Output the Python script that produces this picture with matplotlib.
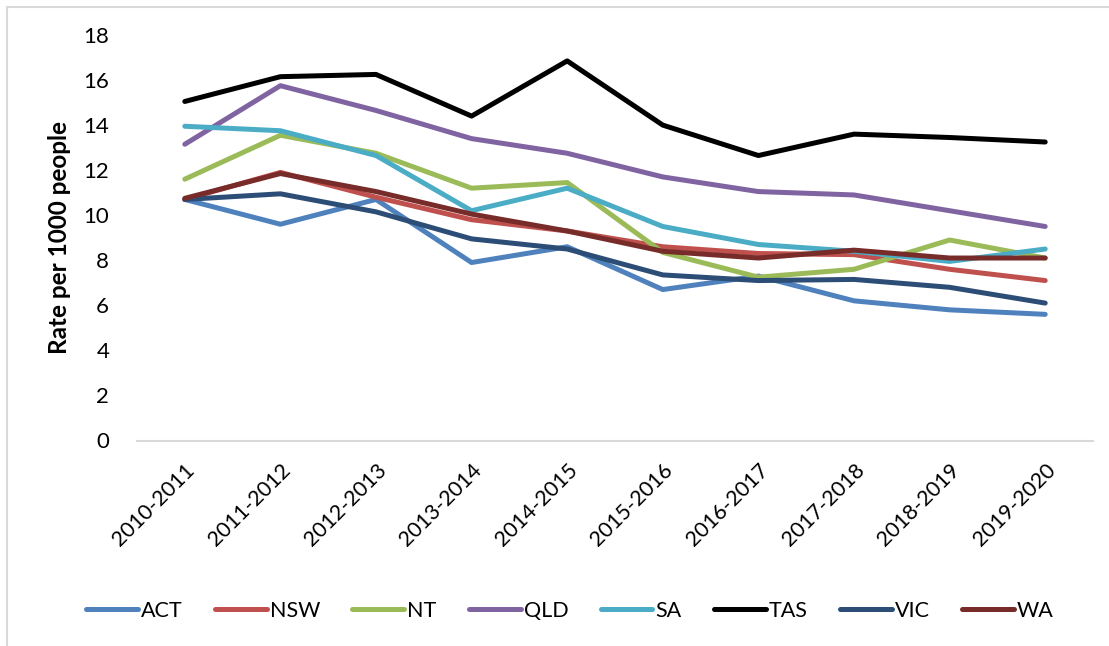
import matplotlib
matplotlib.use("Agg")
from matplotlib import pyplot as plt
from matplotlib.patches import Rectangle

years = ["2010-2011", "2011-2012", "2012-2013", "2013-2014", "2014-2015",
         "2015-2016", "2016-2017", "2017-2018", "2018-2019", "2019-2020"]

act = [10.7, 9.6, 10.7, 7.9, 8.6, 6.7, 7.3, 6.2, 5.8, 5.6]
nsw = [10.7, 11.9, 10.8, 9.8, 9.3, 8.6, 8.3, 8.25, 7.6, 7.1]
nt = [11.6, 13.55, 12.75, 11.2, 11.45, 8.35, 7.25, 7.6, 8.9, 8.1]
qld = [13.15, 15.75, 14.65, 13.4, 12.75, 11.7, 11.05, 10.9, 10.2, 9.5]
sa = [13.95, 13.75, 12.65, 10.2, 11.2, 9.5, 8.7, 8.4, 7.95, 8.5]
tas = [15.05, 16.15, 16.25, 14.4, 16.85, 14.0, 12.65, 13.6, 13.45, 13.25]
vic = [10.7, 10.95, 10.15, 8.95, 8.5, 7.35, 7.1, 7.15, 6.8, 6.1]
wa = [10.75, 11.85, 11.05, 10.05, 9.3, 8.4, 8.1, 8.45, 8.1, 8.1]

series = [("ACT", act, "#4F81BD"), ("NSW", nsw, "#C0504D"), ("NT", nt, "#9BBB59"),
          ("QLD", qld, "#8064A2"), ("SA", sa, "#4BACC6"), ("TAS", tas, "#000000"),
          ("VIC", vic, "#2C4D75"), ("WA", wa, "#772C2A")]

plt.rcParams['font.family'] = ['Lato', 'DejaVu Sans']

fig = plt.figure(figsize=(11.09, 6.46), dpi=100)
ax = fig.add_axes([137 / 1109, 1 - 440.5 / 646, (1093 - 137) / 1109, (440.5 - 35) / 646])

x = list(range(len(years)))
for name, vals, col in series:
    ax.plot(x, vals, color=col, lw=3.6, label=name,
            solid_capstyle='round', solid_joinstyle='round')

ax.set_xlim(-0.5, len(years) - 0.5)
ax.set_ylim(0, 18)
ax.set_yticks(range(0, 19, 2))
ax.set_xticks(x)
ax.set_xticklabels(years, rotation=45, ha='right', va='top', rotation_mode='anchor')
ax.tick_params(axis='both', length=0, labelsize=16)
ax.tick_params(axis='y', pad=20)
ax.tick_params(axis='x', pad=14, labelsize=15.5)

for s in ['top', 'right', 'left']:
    ax.spines[s].set_visible(False)
ax.spines['bottom'].set_color('#D9D9D9')
ax.spines['bottom'].set_linewidth(1.5)

ax.set_ylabel("Rate per 1000 people", fontsize=17.5, fontweight='bold', labelpad=9)

leg = fig.legend(loc='center', bbox_to_anchor=(570 / 1109, 1 - 611 / 646), ncol=8,
                 frameon=False, fontsize=15.5, handlelength=2.4, handletextpad=0.15,
                 columnspacing=1.5)

fig.patches.append(Rectangle((7 / 1109, -0.05), 1.2, 1 - 7 / 646 + 0.05,
                             transform=fig.transFigure, fill=False,
                             edgecolor='#D9D9D9', lw=1.5))

fig.savefig("out.png", dpi=100)
